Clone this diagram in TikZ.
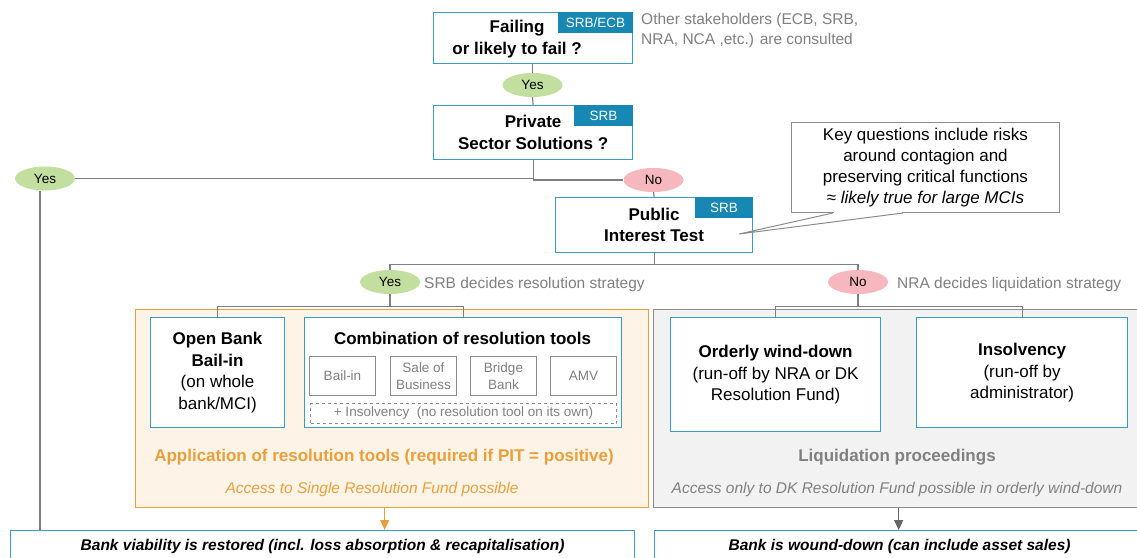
\documentclass[tikz,border=0pt]{standalone}
\usepackage{fontspec}
\setmainfont{Liberation Sans}
\usetikzlibrary{arrows.meta,shapes.geometric,calc}
\definecolor{tealc}{HTML}{3A9CC4}
\definecolor{tagc}{HTML}{1688B3}
\definecolor{yesc}{HTML}{C3DF9F}
\definecolor{noc}{HTML}{F6B8BE}
\definecolor{linec}{HTML}{7F7F7F}
\definecolor{notec}{HTML}{808080}
\definecolor{orangec}{HTML}{E9A03B}
\definecolor{orangefill}{HTML}{FDF3E7}
\definecolor{grayfill}{HTML}{F2F2F2}
\definecolor{grayborder}{HTML}{8C8C8C}
\definecolor{arrowgray}{HTML}{666666}
\newcommand{\fsTitle}{\fontsize{17}{21.5}\selectfont}
\newcommand{\fsNote}{\fontsize{15.5}{20.5}\selectfont}
\newcommand{\fsCall}{\fontsize{17}{21}\selectfont}
\newcommand{\fsTag}{\fontsize{13.5}{15}\selectfont}
\newcommand{\fsTool}{\fontsize{13.5}{17}\selectfont}
\tikzset{
  box/.style={draw=tealc, line width=1.2pt, fill=white, anchor=north west, inner sep=0pt, align=center, font=\fsTitle},
  tagbox/.style={fill=tagc, text=white, font=\fsTag, inner sep=0pt, anchor=north east},
  yesell/.style={ellipse, fill=yesc, minimum width=60pt, minimum height=24pt, inner sep=0pt, font=\fsTag},
  noell/.style={ellipse, fill=noc, minimum width=60pt, minimum height=24pt, inner sep=0pt, font=\fsTag},
  conn/.style={draw=linec, line width=1.1pt},
  note/.style={text=notec, font=\fsNote, align=left, anchor=west, inner sep=0pt},
  toolbox/.style={draw=grayborder, line width=1pt, minimum width=66pt, minimum height=39pt, text=notec, font=\fsTool, align=center, inner sep=0pt, anchor=north west},
  titletext/.style={font=\fsTitle\bfseries, align=center, inner sep=0pt},
  bottombox/.style={draw=tealc, line width=1.2pt, fill=white, anchor=north west, inner sep=0pt, font=\fsNote\bfseries\itshape, minimum height=32pt}
}
\begin{document}
\begin{tikzpicture}[x=1pt,y=-1pt]
\useasboundingbox (0,0) rectangle (1137,557);

% panels
\node[draw=orangec, fill=orangefill, line width=1.3pt, minimum width=513pt, minimum height=198pt, anchor=north west, inner sep=0pt] (rpanel) at (135,309) {};
\node[draw=grayborder, fill=grayfill, line width=1.3pt, minimum width=490pt, minimum height=198pt, anchor=north west, inner sep=0pt] (lpanel) at (653,309) {};

% top boxes
\node[box, minimum width=199pt, minimum height=51pt] (fail) at (433,12) {};
\node[titletext] (failt) at ([xshift=-16pt,yshift=-1pt]fail.center) {Failing\\or likely to fail ?};
\node[tagbox, minimum width=75pt, minimum height=21pt] (failtag) at (fail.north east) {SRB/ECB};
\node[note, anchor=north west] (stake) at (641,13) {Other stakeholders (ECB, SRB,\\NRA, NCA ,etc.) are consulted};

\node[yesell] (y1) at (532.5,85) {Yes};

\node[box, font=\fsTitle\bfseries, minimum width=199pt, minimum height=54pt] (psol) at (433,105) {Private\\Sector Solutions ?};
\node[tagbox, minimum width=59pt, minimum height=21pt] (psoltag) at (psol.north east) {SRB};

\node[yesell] (y2) at (45,178.5) {Yes};
\node[noell] (n1) at (653.5,180) {No};

\node[box, font=\fsTitle\bfseries, minimum width=197pt, minimum height=55pt] (pit) at (555,197) {Public\\Interest Test};
\node[tagbox, minimum width=58pt, minimum height=21pt] (pittag) at (pit.north east) {SRB};

% callout
\node[draw=grayborder, line width=1pt, minimum width=268pt, minimum height=90pt, anchor=north west, font=\fsCall, align=center, inner sep=0pt] (callout) at (791,122) {Key questions include risks\\around contagion and\\preserving critical functions\\≈ \textit{likely true for large MCIs}};
\coordinate (ctip) at (739,234);
\draw[white, line width=1.6pt] ([xshift=43pt]callout.south west) -- ([xshift=111pt]callout.south west);
\draw[draw=grayborder, line width=1pt] ([xshift=42pt]callout.south west) -- (ctip) -- ([xshift=112pt]callout.south west);

% second level
\node[yesell] (y3) at (390,282) {Yes};
\node[note] (srbnote) at (424,284) {SRB decides resolution strategy};
\node[noell] (n2) at (858,282) {No};
\node[note] (nranote) at (897,284) {NRA decides liquidation strategy};

% resolution boxes
\node[box, minimum width=134pt, minimum height=110pt] (obb) at (150,317) {\textbf{Open Bank}\\\textbf{Bail-in}\\(on whole\\bank/MCI)};
\node[box, minimum width=317pt, minimum height=110pt] (comb) at (304,317) {};
\node[titletext] (combt) at (462.5,338) {Combination of resolution tools};
\node[toolbox] (tbail) at (309,356) {Bail-in};
\node[toolbox] (tsale) at (390,356) {Sale of\\Business};
\node[toolbox] (tbridge) at (470,356) {Bridge\\Bank};
\node[toolbox] (tamv) at (550,356) {AMV};
\node[draw=grayborder, dashed, line width=1pt, minimum width=306pt, minimum height=20pt, anchor=north west, inner sep=0pt, font=\fsTool, text=notec] (tins) at (310,403) {+ Insolvency\ \ (no resolution tool on its own)};
\node[titletext, text=orangec] (rptitle) at (384,457) {Application of resolution tools (required if PIT = positive)};
\node[font=\fsNote\itshape, text=orangec, inner sep=0pt] (rpnote) at (372,489) {Access to Single Resolution Fund possible};

% liquidation boxes
\node[box, minimum width=210pt, minimum height=114pt] (owd) at (670,317) {\textbf{Orderly wind-down}\\(run-off by NRA or DK\\Resolution Fund)};
\node[box, minimum width=211pt, minimum height=110pt] (ins) at (916,317) {\textbf{Insolvency}\\(run-off by\\administrator)};
\node[titletext, text=notec] (lptitle) at (897,457) {Liquidation proceedings};
\node[font=\fsNote\itshape, text=notec, inner sep=0pt] (lpnote) at (897,489) {Access only to DK Resolution Fund possible in orderly wind-down};

% bottom boxes
\node[bottombox, minimum width=624pt] (restore) at (10,530) {Bank viability is restored (incl. loss absorption \& recapitalisation)};
\node[bottombox, minimum width=490pt] (wound) at (654,530) {Bank is wound-down (can include asset sales)};

% connectors
\draw[conn] (fail.south -| y1) -- (y1.north);
\draw[conn] (y1.south) -- (psol.north);
\draw[conn] (psol.south) |- (y2.east);
\draw[conn] (psol.south) |- (n1.west);
\draw[conn] ([xshift=-5pt]y2.south) -- ([xshift=-5pt]y2.south |- restore.north);
\draw[conn] (n1.south) -- (pit.north);
\draw[conn] (pit.south) -- ++(0,11) -| (y3.north);
\draw[conn] (pit.south) -- ++(0,11) -| (n2.north);
\draw[conn] (y3.south) -- ++(0,12) -| (obb.north);
\draw[conn] (y3.south) -- ++(0,12) -| (comb.north);
\draw[conn] (n2.south) -- ++(0,12) -| (owd.north);
\draw[conn] (n2.south) -- ++(0,12) -| (ins.north);
\draw[orangec, line width=1.1pt, -{Triangle[length=10pt,width=9pt]}] ([xshift=-7.5pt]rpanel.south) -- ([xshift=-7.5pt]rpanel.south |- restore.north);
\draw[arrowgray, line width=1.1pt, -{Triangle[length=10pt,width=9pt]}] (lpanel.south) -- (lpanel.south |- wound.north);
\end{tikzpicture}
\end{document}
